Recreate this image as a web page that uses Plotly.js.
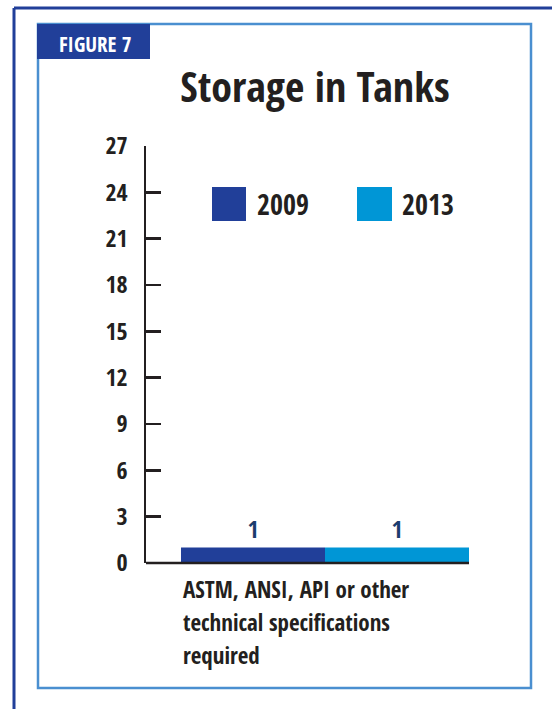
<!DOCTYPE html>
<html><head><meta charset="utf-8">
<script src="https://cdn.plot.ly/plotly-3.0.1.min.js"></script>
<style>html,body{margin:0;padding:0;background:#fff;}#chart{width:552px;height:709px;}</style>
</head><body><div id="chart"></div>
<script>
const categories = ["ASTM, ANSI, API or other<br>technical specifications<br>required"];
const seriesNames = ["2009", "2013"];
const values2009 = [1];
const values2013 = [1];
const yTicks = [0, 3, 6, 9, 12, 15, 18, 21, 24, 27];

const W = 552, H = 709;
const L = 146, R = 504, T = 146, B = 563;
const FONT = '"Open Sans Condensed", "Roboto Condensed", "DejaVu Sans Condensed", sans-serif';
const C09 = '#213f99', C13 = '#0096d6', INK = '#231f20';
const px = x => (x - L) / (R - L);
const py = y => (B - y) / (B - T);

const traces = [
  {type:'bar', name:seriesNames[0], x:categories, y:values2009, marker:{color:C09},
   texttemplate:'%{y}', textposition:'outside', cliponaxis:false,
   textfont:{family:FONT, size:24, color:'#1b3d6d', weight:'bold'}},
  {type:'bar', name:seriesNames[1], x:categories, y:values2013, marker:{color:C13},
   texttemplate:'%{y}', textposition:'outside', cliponaxis:false,
   textfont:{family:FONT, size:24, color:'#1b3d6d', weight:'bold'}}
];

const shapes = [
  {type:'line', xref:'paper', yref:'paper', x0:px(14), x1:px(560), y0:py(8), y1:py(8), line:{color:C09, width:3}},
  {type:'line', xref:'paper', yref:'paper', x0:px(14), x1:px(14), y0:py(8), y1:py(720), line:{color:C09, width:3}},
  {type:'rect', xref:'paper', yref:'paper', x0:px(38), x1:px(531), y0:py(24), y1:py(688), line:{color:'#4a8fd0', width:2.5}},
  {type:'rect', xref:'paper', yref:'paper', x0:px(37), x1:px(150), y0:py(24), y1:py(59), fillcolor:C09, line:{width:0}},
  {type:'line', xref:'paper', yref:'paper', x0:0, x1:px(469), y0:0, y1:0, line:{color:INK, width:2.5}},
  {type:'rect', xref:'paper', yref:'paper', x0:px(212), x1:px(246), y0:py(187), y1:py(221), fillcolor:C09, line:{width:0}},
  {type:'rect', xref:'paper', yref:'paper', x0:px(357), x1:px(392), y0:py(187), y1:py(221), fillcolor:C13, line:{width:0}}
];

const annotations = [
  {xref:'paper', yref:'paper', x:px(95), y:py(44), text:'FIGURE 7', showarrow:false,
   font:{family:FONT, size:21, color:'#ffffff', weight:'bold'}, xanchor:'center', yanchor:'middle'},
  {xref:'paper', yref:'paper', x:px(255), y:py(204), text:seriesNames[0], showarrow:false,
   font:{family:FONT, size:28, color:INK, weight:'bold'}, xanchor:'left', yanchor:'middle'},
  {xref:'paper', yref:'paper', x:px(400), y:py(204), text:seriesNames[1], showarrow:false,
   font:{family:FONT, size:28, color:INK, weight:'bold'}, xanchor:'left', yanchor:'middle'}
];
categories[0].split('<br>').forEach((line, i) => {
  annotations.push({xref:'paper', yref:'paper', x:px(181), y:py(589 + i*33), text:line, showarrow:false,
    font:{family:FONT, size:23, color:INK, weight:'bold'}, xanchor:'left', yanchor:'middle'});
});

const layout = {
  width:W, height:H, paper_bgcolor:'#fff', plot_bgcolor:'#fff', showlegend:false,
  margin:{l:L, r:W-R, t:T, b:H-B, pad:0},
  barmode:'group', bargap:0.1955, bargroupgap:0,
  title:{text:'Storage in Tanks', x:315/W, xref:'container', xanchor:'center', y:1-87/H, yref:'container', yanchor:'middle',
         font:{family:FONT, size:42, color:INK, weight:'bold'}},
  xaxis:{showticklabels:false, ticks:'', showline:false, showgrid:false, zeroline:false, fixedrange:true},
  yaxis:{range:[0,27], tickvals:yTicks, ticktext:yTicks.map(String), ticks:'inside', ticklen:15, tickwidth:2.5, tickcolor:INK,
         showline:true, linecolor:INK, linewidth:2.5, showgrid:false, zeroline:false, ticklabelstandoff:11,
         tickfont:{family:FONT, size:24, color:INK, weight:'bold'}},
  shapes:shapes, annotations:annotations
};
Plotly.newPlot('chart', traces, layout, {staticPlot:true});
</script></body></html>
